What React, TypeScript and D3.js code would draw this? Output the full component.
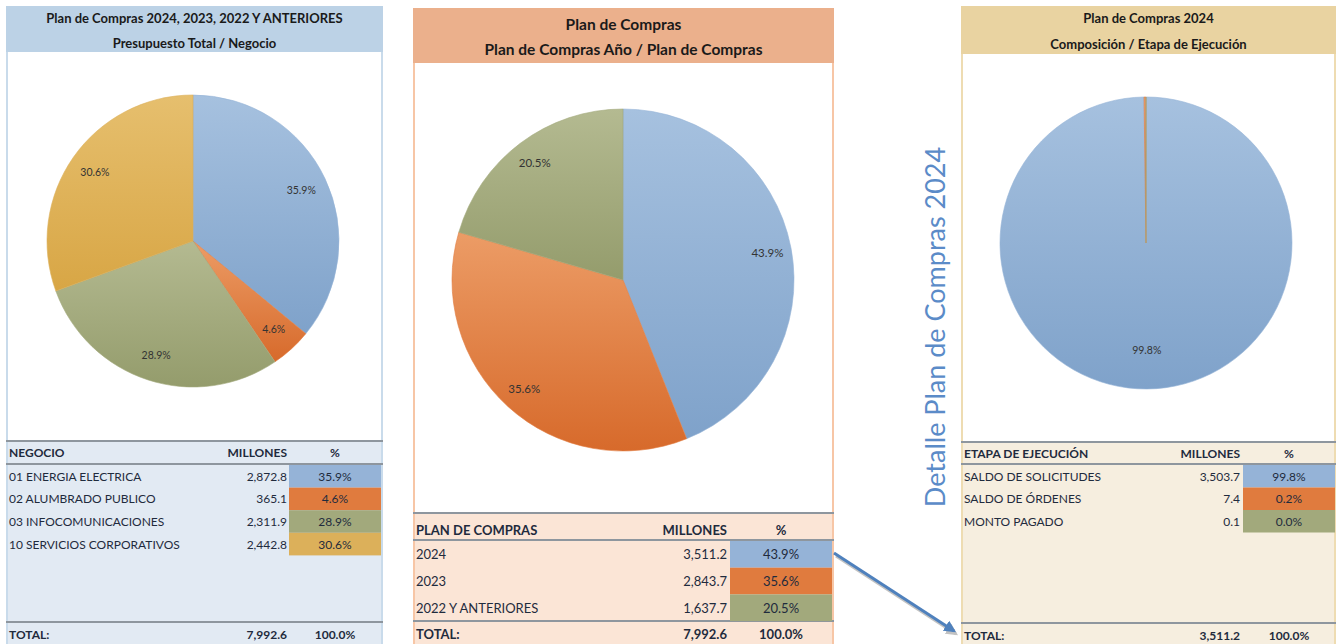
import React from "react";
import * as d3 from "d3";

const negocios = ["01 ENERGIA ELECTRICA", "02 ALUMBRADO PUBLICO", "03 INFOCOMUNICACIONES", "10 SERVICIOS CORPORATIVOS"];
const negocioMillones = [2872.8, 365.1, 2311.9, 2442.8];

const planes = ["2024", "2023", "2022 Y ANTERIORES"];
const planMillones = [3511.2, 2843.7, 1637.7];

const etapas = ["SALDO DE SOLICITUDES", "SALDO DE ÓRDENES", "MONTO PAGADO"];
const etapaMillones = [3503.7, 7.4, 0.1];

const sliceColors = ["blue", "orange", "green", "gold"];

const gradStops: Record<string, [string, string]> = {
  blue: ["#a6c1df", "#7fa2ca"],
  orange: ["#ec9c66", "#d76a2b"],
  green: ["#b4ba91", "#949c6c"],
  gold: ["#e6bf6e", "#d8a645"],
};
const cellFill: Record<string, string> = {
  blue: "#95b3d7",
  orange: "#e07b3e",
  green: "#a2a97c",
  gold: "#dcb05a",
};

const FONT = "Lato, 'Open Sans', sans-serif";
const TEXT = "#1f2b3d";
const fmtNum = d3.format(",.1f");
const fmtPct = d3.format(".1%");

type PanelProps = {
  id: string;
  x0: number;
  x1: number;
  headerTop: number;
  headerBottom: number;
  titles: string[];
  titleY: number[];
  titleSize: number;
  headerFill: string;
  borderColor: string;
  tableFill: string;
  tableTop: number;
  headerTextY: number;
  headerLine: number;
  rowTop: number;
  rowH: number;
  totalLine: number;
  totalY: number;
  firstCol: string;
  labels: string[];
  values: number[];
  millonesRight: number;
  cellX0: number;
  cellX1: number;
  tableSize: number;
  cx: number;
  cy: number;
  r: number;
  labelK: number;
  pieLabelSize: number;
};

const Panel = (p: PanelProps) => {
  const total = d3.sum(p.values);
  const pie = d3.pie<number>().sort(null).value((d) => d);
  const arcs = pie(p.values);
  const arc = d3.arc<d3.PieArcDatum<number>>().innerRadius(0).outerRadius(p.r);
  const labelArc = d3
    .arc<d3.PieArcDatum<number>>()
    .innerRadius(p.r * p.labelK)
    .outerRadius(p.r * p.labelK);
  const pctCenter = (p.cellX0 + p.cellX1) / 2;
  const y = d3
    .scaleBand<number>()
    .domain(p.values.map((_, i) => i))
    .range([p.rowTop, p.rowTop + p.rowH * p.values.length]);

  return (
    <g>
      {/* marco y cuerpo */}
      <rect x={p.x0} y={p.headerTop} width={p.x1 - p.x0} height={644 - p.headerTop} fill="#fff" />
      <rect x={p.x0} y={p.tableTop} width={p.x1 - p.x0} height={644 - p.tableTop} fill={p.tableFill} />
      <line x1={p.x0 + 1} x2={p.x0 + 1} y1={p.headerTop} y2={644} stroke={p.borderColor} strokeWidth={2} />
      <line x1={p.x1 - 1} x2={p.x1 - 1} y1={p.headerTop} y2={644} stroke={p.borderColor} strokeWidth={2} />
      <rect x={p.x0} y={p.headerTop} width={p.x1 - p.x0} height={p.headerBottom - p.headerTop} fill={p.headerFill} />
      {p.titles.map((t, i) => (
        <text
          key={i}
          x={(p.x0 + p.x1) / 2}
          y={p.titleY[i]}
          textAnchor="middle"
          dominantBaseline="central"
          fontFamily={FONT}
          fontWeight="bold"
          fontSize={p.titleSize}
          fill="#1a1a1a"
        >
          {t}
        </text>
      ))}

      {/* torta */}
      <g transform={`translate(${p.cx},${p.cy})`}>
        {arcs.map((a, i) => (
          <path
            key={i}
            d={arc(a) || ""}
            fill={`url(#${p.id}-${sliceColors[i]})`}
            stroke={cellFill[sliceColors[i]]}
            strokeWidth={0.6}
          />
        ))}
        {arcs.map((a, i) =>
          a.value / total > 0.01 ? (
            <text
              key={i}
              x={labelArc.centroid(a)[0]}
              y={labelArc.centroid(a)[1]}
              textAnchor="middle"
              dominantBaseline="central"
              fontFamily={FONT}
              fontSize={p.pieLabelSize}
              fill="#333"
            >
              {fmtPct(a.value / total)}
            </text>
          ) : null
        )}
      </g>

      {/* tabla */}
      <line x1={p.x0} x2={p.x1} y1={p.tableTop} y2={p.tableTop} stroke="#8e969e" strokeWidth={2} />
      <line x1={p.x0} x2={p.x1} y1={p.headerLine} y2={p.headerLine} stroke="#8e969e" strokeWidth={2} />
      <line x1={p.x0} x2={p.x1} y1={p.totalLine} y2={p.totalLine} stroke="#8e969e" strokeWidth={2} />
      <text x={p.x0 + 3} y={p.headerTextY} dominantBaseline="central" fontFamily={FONT} fontWeight="bold" fontSize={p.tableSize} fill={TEXT}>
        {p.firstCol}
      </text>
      <text x={p.millonesRight} y={p.headerTextY} textAnchor="end" dominantBaseline="central" fontFamily={FONT} fontWeight="bold" fontSize={p.tableSize} fill={TEXT}>
        MILLONES
      </text>
      <text x={pctCenter} y={p.headerTextY} textAnchor="middle" dominantBaseline="central" fontFamily={FONT} fontWeight="bold" fontSize={p.tableSize} fill={TEXT}>
        %
      </text>
      {p.values.map((v, i) => (
        <g key={i}>
          <rect x={p.cellX0} y={y(i)} width={p.cellX1 - p.cellX0} height={y.bandwidth()} fill={cellFill[sliceColors[i]]} />
          <text x={p.x0 + 3} y={(y(i) || 0) + y.bandwidth() / 2} dominantBaseline="central" fontFamily={FONT} fontSize={p.tableSize} fill={TEXT}>
            {p.labels[i]}
          </text>
          <text x={p.millonesRight} y={(y(i) || 0) + y.bandwidth() / 2} textAnchor="end" dominantBaseline="central" fontFamily={FONT} fontSize={p.tableSize} fill={TEXT}>
            {fmtNum(v)}
          </text>
          <text x={pctCenter} y={(y(i) || 0) + y.bandwidth() / 2} textAnchor="middle" dominantBaseline="central" fontFamily={FONT} fontSize={p.tableSize} fill={TEXT}>
            {fmtPct(v / total)}
          </text>
        </g>
      ))}
      <text x={p.x0 + 3} y={p.totalY} dominantBaseline="central" fontFamily={FONT} fontWeight="bold" fontSize={p.tableSize} fill={TEXT}>
        TOTAL:
      </text>
      <text x={p.millonesRight} y={p.totalY} textAnchor="end" dominantBaseline="central" fontFamily={FONT} fontWeight="bold" fontSize={p.tableSize} fill={TEXT}>
        {fmtNum(total)}
      </text>
      <text x={pctCenter} y={p.totalY} textAnchor="middle" dominantBaseline="central" fontFamily={FONT} fontWeight="bold" fontSize={p.tableSize} fill={TEXT}>
        {fmtPct(1)}
      </text>
    </g>
  );
};

const App = () => {
  const ids = ["p1", "p2", "p3"];
  return (
    <svg width={1338} height={644} style={{ position: "absolute", left: 0, top: 0, background: "#fff" }}>
      <defs>
        {ids.map((id) =>
          sliceColors.map((c) => (
            <linearGradient key={id + c} id={`${id}-${c}`} x1="0" y1="0" x2="0" y2="1">
              <stop offset="0%" stopColor={gradStops[c][0]} />
              <stop offset="100%" stopColor={gradStops[c][1]} />
            </linearGradient>
          ))
        )}
        <marker id="head" viewBox="0 0 10 10" refX="8" refY="5" markerWidth="4" markerHeight="4" orient="auto">
          <path d="M0,0 L10,5 L0,10 z" fill="#4f81bd" />
        </marker>
        <marker id="headShadow" viewBox="0 0 10 10" refX="8" refY="5" markerWidth="4" markerHeight="4" orient="auto">
          <path d="M0,0 L10,5 L0,10 z" fill="#9a9a9a" />
        </marker>
      </defs>

      <Panel
        id="p1"
        x0={6}
        x1={383}
        headerTop={6}
        headerBottom={52}
        titles={["Plan de Compras 2024, 2023, 2022 Y ANTERIORES", "Presupuesto Total / Negocio"]}
        titleY={[18, 43]}
        titleSize={13}
        headerFill="#bcd2e6"
        borderColor="#c9dbeb"
        tableFill="#e2eaf3"
        tableTop={441}
        headerTextY={452}
        headerLine={464}
        rowTop={465}
        rowH={22.6}
        totalLine={622}
        totalY={634}
        firstCol="NEGOCIO"
        labels={negocios}
        values={negocioMillones}
        millonesRight={287}
        cellX0={289}
        cellX1={381}
        tableSize={12}
        cx={193}
        cy={241}
        r={146}
        labelK={0.82}
        pieLabelSize={10.5}
      />

      <Panel
        id="p2"
        x0={413}
        x1={834}
        headerTop={8}
        headerBottom={63}
        titles={["Plan de Compras", "Plan de Compras Año / Plan de Compras"]}
        titleY={[24, 49]}
        titleSize={15.5}
        headerFill="#ebb08c"
        borderColor="#f7c6a6"
        tableFill="#fbe5d6"
        tableTop={513}
        headerTextY={530}
        headerLine={540}
        rowTop={541}
        rowH={26.7}
        totalLine={621}
        totalY={634}
        firstCol="PLAN DE COMPRAS"
        labels={planes}
        values={planMillones}
        millonesRight={727}
        cellX0={730}
        cellX1={832}
        tableSize={13}
        cx={623}
        cy={280}
        r={171}
        labelK={0.86}
        pieLabelSize={11.5}
      />

      <Panel
        id="p3"
        x0={961}
        x1={1336}
        headerTop={6}
        headerBottom={54}
        titles={["Plan de Compras 2024", "Composición / Etapa de Ejecución"]}
        titleY={[18, 44]}
        titleSize={13}
        headerFill="#e9d3a1"
        borderColor="#eedcb2"
        tableFill="#f6eedf"
        tableTop={442}
        headerTextY={453}
        headerLine={464}
        rowTop={465}
        rowH={22.5}
        totalLine={623}
        totalY={635}
        firstCol="ETAPA DE EJECUCIÓN"
        labels={etapas}
        values={etapaMillones}
        millonesRight={1240}
        cellX0={1243}
        cellX1={1335}
        tableSize={12}
        cx={1146}
        cy={243}
        r={146}
        labelK={0.73}
        pieLabelSize={10.5}
      />

      {/* texto vertical */}
      <text
        transform="translate(934,327) rotate(-90)"
        textAnchor="middle"
        dominantBaseline="central"
        fontFamily={FONT}
        fontSize={27}
        fill="#5b8bc8"
      >
        Detalle Plan de Compras 2024
      </text>

      {/* flecha 2024 -> detalle */}
      <line x1={836} y1={556} x2={956} y2={634} stroke="#9a9a9a" strokeWidth={3} opacity={0.6} markerEnd="url(#headShadow)" />
      <line x1={834} y1={553} x2={954} y2={631} stroke="#4f81bd" strokeWidth={3} markerEnd="url(#head)" />
    </svg>
  );
};

export default App;
